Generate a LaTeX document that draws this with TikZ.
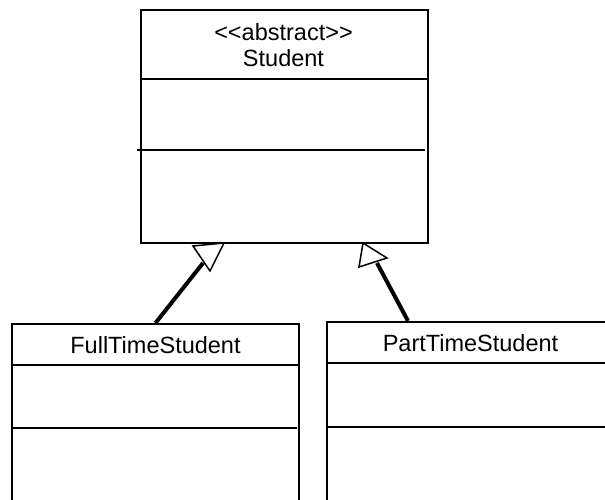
\documentclass[tikz,border=0pt]{standalone}
\usepackage{fontspec}
\setmainfont{Liberation Sans}
\usetikzlibrary{arrows.meta, calc}

\begin{document}
\begin{tikzpicture}[
  x=1pt, y=1pt,
  font=\fontsize{23.5}{26}\selectfont,
  classbox/.style={draw=black, line width=2pt, anchor=north west,
                   minimum width=287pt, inner sep=0pt},
  namebox/.style={align=center, inner sep=0pt},
  divider/.style={draw=black, line width=1.6pt},
  inheritline/.style={draw=black, line width=4pt},
  hollowtip/.style={draw=black, fill=white, line width=1.5pt,
                    line join=miter},
]

\useasboundingbox (0,0) rectangle (605,-500);
\clip (0,0) rectangle (605,-500);

% =================================================================
%  SUPERCLASS
% =================================================================
\node[classbox, minimum height=233pt] (student) at (140,-9) {};
\node[namebox] (studentname) at (283.5,-45)
  {<\kern0pt<abstract>\kern0pt>\\Student};
\draw[divider] ($(student.north west)+(0,-70)$) --
               ($(student.north east)+(0,-70)$);
\draw[divider] ($(student.north west)+(-3,-141)$) --
               ($(student.north east)+(-4,-141)$);

% =================================================================
%  SUBCLASSES
% =================================================================
\node[classbox, minimum height=200pt] (fulltime) at (11,-323) {};
\node[namebox] (fullname) at ($(fulltime.north)+(0,-22)$)
  {FullTimeStudent};
\draw[divider] ($(fulltime.north west)+(0,-42)$) --
               ($(fulltime.north east)+(0,-42)$);
\draw[divider] ($(fulltime.north west)+(0,-105)$) --
               ($(fulltime.north east)+(-3,-105)$);

\node[classbox, minimum height=200pt] (parttime) at (326,-321) {};
\node[namebox] (partname) at ($(parttime.north)+(0,-22)$)
  {PartTimeStudent};
\draw[divider] ($(parttime.north west)+(0,-42)$) --
               ($(parttime.north east)+(0,-42)$);
\draw[divider] ($(parttime.north west)+(0,-106)$) --
               ($(parttime.north east)+(0,-106)$);

% =================================================================
%  GENERALISATION ARROWS
% =================================================================
\coordinate (fulltip) at (203,-263);
\coordinate (parttip) at (377,-263);

\draw[inheritline] (fulltime.north) -- (fulltip);
\draw[inheritline] ($(parttime.north west)+(82,0)$) -- (parttip);

\draw[hollowtip] (193,-246) -- (224,-243) -- (210,-271) -- cycle;
\draw[hollowtip] (363,-243) -- (387,-258) -- (359,-267) -- cycle;

\end{tikzpicture}
\end{document}
